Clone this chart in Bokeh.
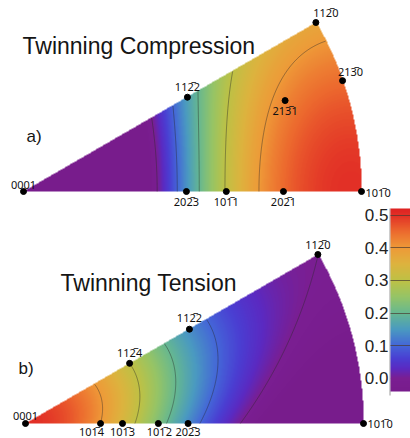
import numpy as np
from bokeh.plotting import figure
from bokeh.models import Range1d, LinearColorMapper, ColorBar, FixedTicker, ColumnDataSource
from bokeh.core.properties import value
from bokeh.embed import file_html
from bokeh.resources import INLINE

# ---------------- data ----------------
C_OVER_A = 1.624                      # read from the pole positions (Mg)
TWIN_AZIMUTHS_DEG = [0, 60, 120, 180, 240, 300]   # {10-12}<-1011> variants
CONTOUR_LEVELS = [0.0, 0.1, 0.2, 0.3, 0.4]
CBAR_TICKS = [0.0, 0.1, 0.2, 0.3, 0.4, 0.5]
CBAR_LABELS = ["0.0", "0.1", "0.2", "0.3", "0.4", "0.5"]
CBAR_LOW, CBAR_HIGH = -0.04, 0.52

TOP_TITLE = "Twinning Compression"
BOT_TITLE = "Twinning Tension"

OV = "\u0305"
TOP_POLES = ["0001", "202" + OV + "3", "101" + OV + "1", "202" + OV + "1", "101" + OV + "0",
             "112" + OV + "2", "213" + OV + "1", "213" + OV + "0", "112" + OV + "0"]
TOP_U = [0.0, 0.482, 0.600, 0.769, 1.000, 0.485, 0.774, 0.944, 0.865]
TOP_V = [0.0, 0.0, 0.0, 0.0, 0.0, 0.279, 0.269, 0.328, 0.500]

BOT_POLES = ["0001", "101" + OV + "4", "101" + OV + "3", "101" + OV + "2", "202" + OV + "3",
             "101" + OV + "0", "112" + OV + "4", "112" + OV + "2", "112" + OV + "0"]
BOT_U = [0.0, 0.222, 0.287, 0.393, 0.481, 1.000, 0.308, 0.485, 0.865]
BOT_V = [0.0, 0.0, 0.0, 0.0, 0.0, 0.0, 0.178, 0.279, 0.500]

# ---------------- layout / style ----------------
W, H = 410, 438
R = 338.0
TOP_O = (23.0, 247.0)
BOT_O = (25.0, 15.0)
FONT = value("Liberation Sans")
POLE_FONT = value("Noto Sans")

# label placement: (align, baseline, dx, dy) in screen px
TOP_LAYOUT = [("center", "bottom", 0, -3), ("center", "top", 0, 2), ("center", "top", 0, 2),
              ("center", "top", 0, 2), ("left", "middle", 4, 1), ("center", "bottom", 0, -3),
              ("center", "top", 0, 2), ("center", "bottom", 8, -2), ("center", "bottom", 10, -3)]
BOT_LAYOUT = [("center", "bottom", 0, -4), ("center", "top", -9, 0), ("center", "top", 0, 0),
              ("center", "top", 1, 0), ("center", "top", 0, 0), ("left", "middle", 4, 0),
              ("center", "bottom", 0, -3), ("center", "bottom", 0, -4), ("center", "bottom", 0, -3)]

ANCHORS = [(-0.04, "#781c8c"), (0.0, "#7a1e92"), (0.03, "#5a2ac2"), (0.06, "#4a3ed2"),
           (0.10, "#4466d8"), (0.15, "#4a9ac0"), (0.20, "#66b890"), (0.25, "#95c466"),
           (0.30, "#bec145"), (0.35, "#ddb33e"), (0.40, "#ee9a38"), (0.45, "#ec6a2e"),
           (0.50, "#e23026"), (0.52, "#de2222")]


def hex2rgb(h):
    return [int(h[i:i + 2], 16) for i in (1, 3, 5)]


av = np.array([a[0] for a in ANCHORS])
ac = np.array([hex2rgb(a[1]) for a in ANCHORS], dtype=float)
vals = np.linspace(CBAR_LOW, CBAR_HIGH, 256)
palette = []
for t in vals:
    rgb = [np.interp(t, av, ac[:, k]) for k in range(3)]
    palette.append("#%02x%02x%02x" % tuple(int(round(c)) for c in rgb))

mapper = LinearColorMapper(palette=palette, low=CBAR_LOW, high=CBAR_HIGH, nan_color="#00000000")

alpha = np.arctan(C_OVER_A / np.sqrt(3.0))
sa, ca = np.sin(alpha), np.cos(alpha)


def schmid(u, v, sign):
    r = np.hypot(u, v)
    th = 2 * np.arctan(r)
    psi = np.arctan2(v, u)
    lx, ly, lz = np.sin(th) * np.cos(psi), np.sin(th) * np.sin(psi), np.cos(th)
    best = np.full(u.shape, -np.inf)
    for pd in TWIN_AZIMUTHS_DEG:
        ph = np.radians(pd)
        ln = lx * sa * np.cos(ph) + ly * sa * np.sin(ph) + lz * ca
        le = -lx * ca * np.cos(ph) - ly * ca * np.sin(ph) + lz * sa
        best = np.maximum(best, sign * ln * le)
    inside = (r <= 1.0) & (psi >= -1e-9) & (psi <= np.pi / 6 + 1e-9)
    return np.where(inside, best, np.nan)


p = figure(width=W, height=H, output_backend="svg", toolbar_location=None,
           x_range=Range1d(0, W), y_range=Range1d(0, H),
           x_axis_location=None, y_axis_location=None, min_border=0)
p.grid.visible = False
p.outline_line_color = None
p.background_fill_color = "white"

for (ox, oy), sign in ((TOP_O, -1.0), (BOT_O, 1.0)):
    nx, ny = 676, 338
    u = (np.arange(nx) + 0.5) / nx
    v = (np.arange(ny) + 0.5) / ny * 0.5
    U, V = np.meshgrid(u, v)
    Z = schmid(U, V, sign)
    p.image(image=[Z], x=ox, y=oy, dw=R, dh=R * 0.5, color_mapper=mapper)
    cu = np.linspace(0, 1, 340)
    cv = np.linspace(0, 0.5, 171)
    CU, CV = np.meshgrid(cu, cv)
    CZ = schmid(CU, CV, sign)
    p.contour(x=ox + R * cu, y=oy + R * cv, z=CZ, levels=CONTOUR_LEVELS,
              line_color="#2a2a2a", line_alpha=0.55, line_width=0.8)

# poles and labels
for (ox, oy), poles, us, vs, lay in ((TOP_O, TOP_POLES, TOP_U, TOP_V, TOP_LAYOUT),
                                     (BOT_O, BOT_POLES, BOT_U, BOT_V, BOT_LAYOUT)):
    xs = [ox + R * a for a in us]
    ys = [oy + R * b for b in vs]
    p.scatter(xs, ys, size=6, color="black")
    groups = {}
    for i, (al, bl, dx, dy) in enumerate(lay):
        g = groups.setdefault((al, bl), dict(x=[], y=[], t=[], dx=[], dy=[]))
        g["x"].append(xs[i]); g["y"].append(ys[i]); g["t"].append(poles[i])
        g["dx"].append(dx); g["dy"].append(dy)
    for (al, bl), g in groups.items():
        src = ColumnDataSource(g)
        p.text(x="x", y="y", text="t", x_offset="dx", y_offset="dy", source=src,
               text_align=al, text_baseline=bl, text_font=POLE_FONT,
               text_font_size=value("11px"), text_color="#111111")

# titles
p.text(x=[22], y=[393], text=[TOP_TITLE], text_font=FONT, text_font_size=value("23px"),
       text_color="#151515", text_baseline="alphabetic")
p.text(x=[60], y=[156], text=[BOT_TITLE], text_font=FONT, text_font_size=value("23px"),
       text_color="#151515", text_baseline="alphabetic")
p.text(x=[26], y=[302], text=["a)"], text_font=FONT, text_font_size=value("17px"),
       text_color="#151515", text_baseline="alphabetic")
p.text(x=[18], y=[70], text=["b)"], text_font=FONT, text_font_size=value("17px"),
       text_color="#151515", text_baseline="alphabetic")

# colour bar
CB_X, CB_Y, CB_W, CB_H = 390, 47, 20, 183
cb = ColorBar(color_mapper=mapper, location=(CB_X, CB_Y), width=CB_W, height=CB_H,
              padding=0, margin=0, ticker=FixedTicker(ticks=CBAR_TICKS[1:]),
              major_label_text_font_size="0px", major_label_text_alpha=0,
              major_tick_in=CB_W, major_tick_out=0, major_tick_line_color="#4a3a30",
              major_tick_line_alpha=0.7, minor_tick_line_color=None,
              bar_line_color=None, background_fill_alpha=0, border_line_color=None,
              label_standoff=0)
p.add_layout(cb)

tick_y = [CB_Y + (t - CBAR_LOW) / (CBAR_HIGH - CBAR_LOW) * CB_H for t in CBAR_TICKS]
p.segment(x0=[CB_X], y0=[tick_y[0]], x1=[CB_X + CB_W], y1=[tick_y[0]],
          line_color="#e8b4e4", line_width=1)
p.segment(x0=[CB_X - 0.5], y0=[CB_Y - 4], x1=[CB_X - 0.5], y1=[CB_Y + CB_H],
          line_color="#9a9a9a", line_width=1)

p.text(x=[CB_X - 2] * len(CBAR_TICKS), y=tick_y, text=CBAR_LABELS, text_align="right",
       text_baseline="middle", text_font=FONT, text_font_size=value("17px"),
       text_color="#222222")

open("out.html", "w").write(file_html(p, INLINE))
